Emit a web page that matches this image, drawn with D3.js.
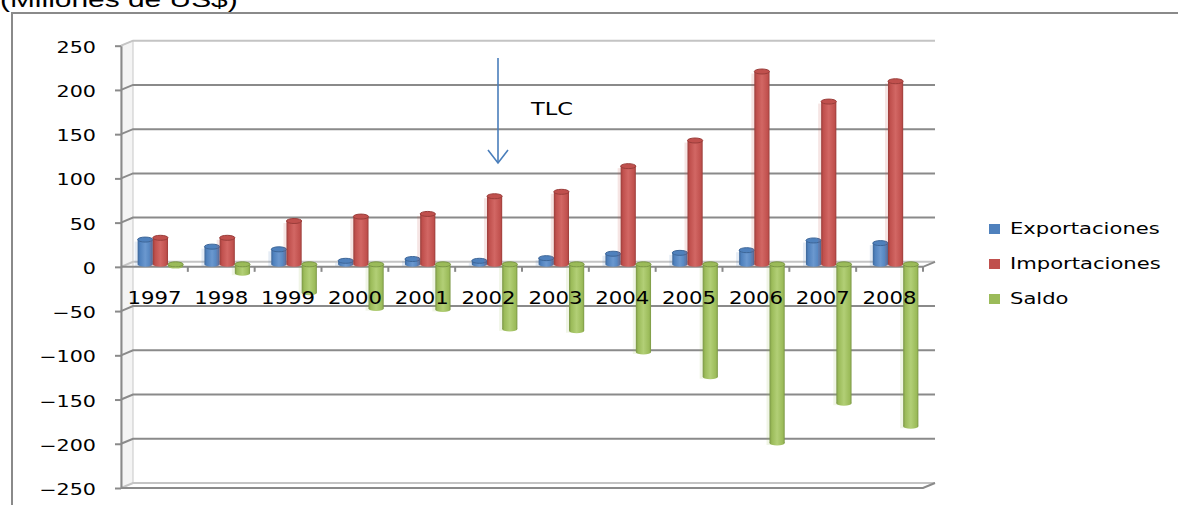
<!DOCTYPE html>
<html>
<head>
<meta charset="utf-8">
<script src="https://cdn.jsdelivr.net/npm/d3@7"></script>
<style>
  body { margin: 0; background: #fff; }
  svg { display: block; }
</style>
</head>
<body>
<script>
// données (millones de US$)
const annees = ["1997", "1998", "1999", "2000", "2001", "2002", "2003", "2004", "2005", "2006", "2007", "2008"];
const exportaciones = [28, 20, 17, 4, 6, 4, 7, 12, 13, 16, 27, 24];
const importaciones = [30, 30, 49, 54, 57, 77, 82, 111, 140, 218, 184, 207];
const saldo = [-2, -10, -32, -50, -51, -73, -75, -99, -127, -202, -157, -183];
const series = ["Exportaciones", "Importaciones", "Saldo"];
const couleurs = ["#4f81bd", "#c0504d", "#9bbb59"];
const sombres = ["#3d6698", "#9a3d3a", "#7a9645"];
const clairs = ["#6b98cf", "#d26764", "#b2cf76"];
const ticksY = [-250, -200, -150, -100, -50, 0, 50, 100, 150, 200, 250];

const valeurs = [exportaciones, importaciones, saldo];

const largeur = 1178, hauteur = 505;
// profondeur du graphique 3D
const prof = { dx: 12, dy: -5 };

const svg = d3.select("body").append("svg")
    .attr("width", largeur)
    .attr("height", hauteur);

const defs = svg.append("defs");
series.forEach(function(s, i) {
    const g = defs.append("linearGradient")
        .attr("id", "cyl" + i)
        .attr("x1", "0%").attr("x2", "100%").attr("y1", "0%").attr("y2", "0%");
    g.append("stop").attr("offset", "0%").attr("stop-color", sombres[i]);
    g.append("stop").attr("offset", "15%").attr("stop-color", couleurs[i]);
    g.append("stop").attr("offset", "50%").attr("stop-color", clairs[i]);
    g.append("stop").attr("offset", "88%").attr("stop-color", couleurs[i]);
    g.append("stop").attr("offset", "100%").attr("stop-color", sombres[i]);
});

// Echelles
const x = d3.scaleBand()
    .domain(annees)
    .range([121, 923]);

const xSerie = d3.scaleBand()
    .domain(series)
    .range([0, x.bandwidth()])
    .paddingOuter(0.7);

const y = d3.scaleLinear()
    .domain([-250, 250])
    .range([488, 45.7]);

// cadre extérieur
svg.append("path")
    .attr("d", "M12," + hauteur + "V13H" + largeur)
    .attr("fill", "none")
    .attr("stroke", "#8a8a8a")
    .attr("stroke-width", 2);

// titre (coupé en haut, comme l'original)
svg.append("text")
    .attr("transform", "translate(0,7) scale(1.36,1)")
    .attr("font-family", "Liberation Sans, Arial, sans-serif")
    .attr("font-size", 22)
    .attr("fill", "#000")
    .text("(Millones de US$)");

// mur latéral
svg.append("path")
    .attr("d", "M121," + y(250) + "L" + (121 + prof.dx) + "," + (y(250) + prof.dy) +
        "V" + (y(-250) + prof.dy) + "L121," + y(-250) + "Z")
    .attr("fill", "#f4f4f4")
    .attr("stroke", "#c8c8c8")
    .attr("stroke-width", 1);

// lignes de grille sur le mur du fond
const fin = x.range()[1] + prof.dx;
svg.append("g").selectAll("path")
    .data(ticksY)
    .enter().append("path")
    .attr("d", d => "M121," + y(d) + "L" + (121 + prof.dx) + "," + (y(d) + prof.dy) + "H" + fin)
    .attr("fill", "none")
    .attr("stroke", d => (d === 250 || d === 0 || d === -250) ? "#c4c4c4" : "#8a8a8a")
    .attr("stroke-width", 2);

// sol à -250 et axe à 0 (bord avant)
[-250, 0].forEach(function(v) {
    svg.append("path")
        .attr("d", "M121," + y(v) + "H" + x.range()[1] + "L" + fin + "," + (y(v) + prof.dy))
        .attr("fill", "none")
        .attr("stroke", "#8a8a8a")
        .attr("stroke-width", 2);
});

// petites graduations de l'axe X
const bornes = annees.map(a => x(a)).concat([x.range()[1]]);
svg.append("g").selectAll("line")
    .data(bornes.slice(1))
    .enter().append("line")
    .attr("x1", d => d).attr("x2", d => d)
    .attr("y1", y(0)).attr("y2", y(0) + 5)
    .attr("stroke", "#8a8a8a")
    .attr("stroke-width", 2);

// Axe Y
const axeY = d3.axisLeft(y).tickValues(ticksY).tickSize(6).tickSizeOuter(0);
const gAxe = svg.append("g")
    .attr("transform", "translate(121,0)")
    .call(axeY);
gAxe.select(".domain")
    .attr("stroke", "#8a8a8a")
    .attr("stroke-width", 2);
gAxe.selectAll(".tick line")
    .attr("stroke", "#8a8a8a")
    .attr("stroke-width", 2);
gAxe.selectAll(".tick text")
    .attr("x", -25 / 1.38)
    .attr("y", 6.5)
    .attr("dy", null)
    .attr("transform", "scale(1.38,1)")
    .attr("font-family", "DejaVu Sans, Verdana, sans-serif")
    .attr("font-size", 15)
    .attr("fill", "#000")
    .attr("text-anchor", "end");

// Barres en cylindres
const base = y(0) + prof.dy / 2;
const decal = prof.dx / 2;
const ry = 2.5;

const donnees = [];
annees.forEach(function(a, i) {
    series.forEach(function(s, j) {
        donnees.push({ annee: a, serie: s, j: j, v: valeurs[j][i] });
    });
});

const gBarres = svg.append("g");
const barre = gBarres.selectAll("g")
    .data(donnees)
    .enter().append("g")
    .attr("transform", d => "translate(" + (x(d.annee) + xSerie(d.serie) + decal) + ",0)");

const lb = xSerie.bandwidth();

// ombre légère
barre.filter(d => Math.abs(d.v) > 3).append("rect")
    .attr("x", -3)
    .attr("width", lb)
    .attr("y", d => Math.min(base, base + y(d.v) - y(0)) + 2)
    .attr("height", d => Math.abs(y(d.v) - y(0)))
    .attr("fill", d => couleurs[d.j])
    .attr("opacity", 0.15);

barre.append("rect")
    .attr("x", 0)
    .attr("width", lb)
    .attr("y", d => Math.min(base, base + y(d.v) - y(0)))
    .attr("height", d => Math.abs(y(d.v) - y(0)))
    .attr("fill", d => "url(#cyl" + d.j + ")");

// ellipse du bas
barre.append("ellipse")
    .attr("cx", lb / 2)
    .attr("cy", d => Math.max(base, base + y(d.v) - y(0)))
    .attr("rx", lb / 2)
    .attr("ry", ry)
    .attr("fill", d => "url(#cyl" + d.j + ")");

// ellipse du haut
barre.append("ellipse")
    .attr("cx", lb / 2)
    .attr("cy", d => Math.min(base, base + y(d.v) - y(0)))
    .attr("rx", lb / 2)
    .attr("ry", ry)
    .attr("fill", d => couleurs[d.j])
    .attr("stroke", d => sombres[d.j])
    .attr("stroke-width", 1);

// étiquettes des années
svg.append("g").selectAll("text")
    .data(annees)
    .enter().append("text")
    .attr("transform", d => "translate(" + (x(d) + x.bandwidth() / 2) + ",304) scale(1.18,1)")
    .attr("text-anchor", "middle")
    .attr("font-family", "DejaVu Sans, Verdana, sans-serif")
    .attr("font-size", 18)
    .attr("fill", "#000")
    .text(d => d);

// flèche TLC
const xFleche = 498;
svg.append("line")
    .attr("x1", xFleche).attr("x2", xFleche)
    .attr("y1", 58).attr("y2", 163)
    .attr("stroke", "#4a7ebb")
    .attr("stroke-width", 1.6);
svg.append("path")
    .attr("d", "M" + (xFleche - 10) + ",150L" + xFleche + ",163L" + (xFleche + 10) + ",150")
    .attr("fill", "none")
    .attr("stroke", "#4a7ebb")
    .attr("stroke-width", 1.6);
svg.append("text")
    .attr("transform", "translate(531,115) scale(1.25,1)")
    .attr("font-family", "DejaVu Sans, Verdana, sans-serif")
    .attr("font-size", 18)
    .attr("fill", "#000")
    .text("TLC");

// légende
const legende = svg.append("g").selectAll("g")
    .data(series)
    .enter().append("g")
    .attr("transform", (d, i) => "translate(989," + (224 + i * 35) + ")");
legende.append("rect")
    .attr("width", 11)
    .attr("height", 10)
    .attr("fill", (d, i) => couleurs[i]);
legende.append("text")
    .attr("transform", "translate(21,10) scale(1.32,1)")
    .attr("font-family", "DejaVu Sans, Verdana, sans-serif")
    .attr("font-size", 16)
    .attr("fill", "#000")
    .text(d => d);
</script>
</body>
</html>
